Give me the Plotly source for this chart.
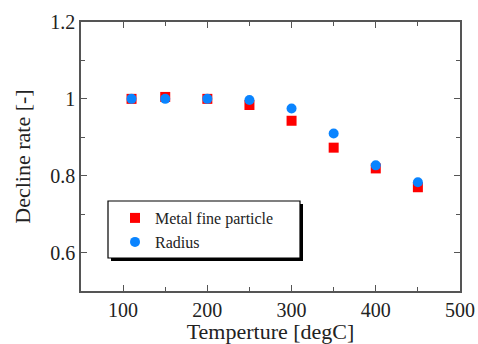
import plotly.graph_objects as go

temps = [110, 150, 200, 250, 300, 350, 400, 450]
metal = [1.0, 1.005, 1.0, 0.984, 0.943, 0.873, 0.819, 0.770]
radius = [1.0, 1.0, 1.0, 0.997, 0.975, 0.910, 0.827, 0.783]
xticks = [100, 200, 300, 400, 500]
yticks = [0.6, 0.8, 1.0, 1.2]
yticklabels = ["0.6", "0.8", "1", "1.2"]

font = "Liberation Serif, Times New Roman, serif"

L, R, T, B = 81, 460, 22, 291
W, H = R - L, B - T


def px(x):
    return (x - L) / W


def py(y):
    return (B - y) / H


fig = go.Figure()
fig.add_trace(go.Scatter(x=temps, y=metal, mode="markers", name="Metal fine particle",
                         marker=dict(symbol="square", size=10, color="#ff0000"), legend="legend"))
fig.add_trace(go.Scatter(x=temps, y=radius, mode="markers", name="Radius",
                         marker=dict(symbol="circle", size=10, color="#0a84ff"), legend="legend2"))

axis_common = dict(showline=True, linecolor="#555555", linewidth=1.5, mirror="ticks",
                   ticks="inside", ticklen=6, tickwidth=1.2, tickcolor="#555555",
                   showgrid=False, zeroline=False, automargin=False,
                   tickfont=dict(family=font, size=20, color="#222222"))

fig.update_xaxes(range=[50, 500], tickvals=xticks,
                 minor=dict(ticks="inside", dtick=50, tick0=0, ticklen=4, tickcolor="#555555", showgrid=False),
                 title=dict(text="Temperture [degC]", font=dict(family=font, size=22, color="#222222"), standoff=4),
                 **axis_common)
fig.update_yaxes(range=[0.5, 1.2], tickvals=yticks, ticktext=yticklabels,
                 minor=dict(ticks="inside", dtick=0.1, tick0=0, ticklen=4, tickcolor="#555555", showgrid=False),
                 title=dict(text="Decline rate [-]", font=dict(family=font, size=22, color="#222222"), standoff=14),
                 **axis_common)

# legend box with drop shadow
fig.add_shape(type="rect", xref="paper", yref="paper",
              x0=px(111), x1=px(303), y0=py(261), y1=py(204),
              fillcolor="black", line=dict(width=0), layer="above")
fig.add_shape(type="rect", xref="paper", yref="paper",
              x0=px(108), x1=px(300), y0=py(258), y1=py(201),
              fillcolor="white", line=dict(width=1.2, color="black"), layer="above")

leg_common = dict(xanchor="left", yanchor="middle", bgcolor="rgba(0,0,0,0)", borderwidth=0,
                  font=dict(family=font, size=16, color="#222222"), itemwidth=30)

fig.update_layout(
    width=478, height=344,
    margin=dict(l=L, r=478 - R, t=T, b=344 - B),
    plot_bgcolor="white", paper_bgcolor="white",
    legend=dict(x=px(115), y=py(218), **leg_common),
    legend2=dict(x=px(115), y=py(242), **leg_common),
    showlegend=True,
)

fig.write_html("out.html", config={"displayModeBar": False},
               post_script="document.body.style.margin='0';document.body.style.overflow='hidden';")
